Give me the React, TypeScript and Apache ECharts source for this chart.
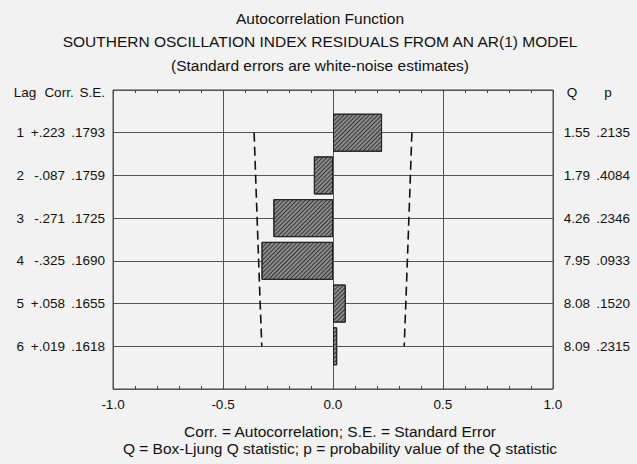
import React, { useEffect, useRef } from "react";
import * as echarts from "echarts";

const lags = [1, 2, 3, 4, 5, 6];
const corr = [0.223, -0.087, -0.271, -0.325, 0.058, 0.019];
const corrLabels = ["+.223", "-.087", "-.271", "-.325", "+.058", "+.019"];
const stdErr = [0.1793, 0.1759, 0.1725, 0.169, 0.1655, 0.1618];
const seLabels = [".1793", ".1759", ".1725", ".1690", ".1655", ".1618"];
const qStat = ["1.55", "1.79", "4.26", "7.95", "8.08", "8.09"];
const pValues = [".2135", ".4084", ".2346", ".0933", ".1520", ".2315"];

const titleLines = [
  "Autocorrelation Function",
  "SOUTHERN OSCILLATION INDEX RESIDUALS FROM AN AR(1) MODEL",
  "(Standard errors are white-noise estimates)",
];
const footLines = [
  "Corr. = Autocorrelation; S.E. = Standard Error",
  "Q = Box-Ljung Q statistic; p = probability value of the Q statistic",
];

const FONT = '"Liberation Sans", Arial, sans-serif';

export default function App() {
  const ref = useRef<HTMLDivElement>(null);
  useEffect(() => {
    document.body.style.margin = "0";
    const chart = echarts.init(ref.current!, null, { renderer: "svg" });
    const yCats = ["", ...lags.map(String), ""];
    const pad = (arr: any[]) => ["-", ...arr, "-"];
    const axisCommon = {
      type: "value",
      min: -1,
      max: 1,
      interval: 0.5,
      axisLine: { show: false },
      axisTick: { show: true, inside: true, length: 3, lineStyle: { color: "#444" } },
      minorTick: { show: true, splitNumber: 5, length: 3, lineStyle: { color: "#444" } },
    };
    chart.setOption({
      animation: false,
      backgroundColor: "#f2f2f2",
      textStyle: { fontFamily: FONT },
      grid: {
        left: 113,
        top: 90,
        width: 440,
        height: 299,
        show: true,
        borderColor: "#444",
        borderWidth: 1,
        backgroundColor: "transparent",
      },
      xAxis: [
        {
          ...axisCommon,
          position: "bottom",
          axisLabel: {
            show: true,
            margin: 8,
            fontSize: 13.5,
            color: "#111",
            fontFamily: FONT,
            formatter: (v: number) => v.toFixed(1),
          },
          splitLine: { show: true, lineStyle: { color: "#555", width: 1 } },
        },
        {
          ...axisCommon,
          position: "top",
          axisLabel: { show: false },
          splitLine: { show: false },
        },
      ],
      yAxis: [
        {
          type: "category",
          data: yCats,
          inverse: true,
          boundaryGap: false,
          position: "left",
          axisLine: { show: false },
          axisTick: { show: false },
          splitLine: { show: true, interval: 0, lineStyle: { color: "#555", width: 1 } },
          axisLabel: {
            interval: 0,
            margin: 8,
            fontSize: 13.5,
            color: "#111",
            fontFamily: FONT,
            formatter: (_v: string, i: number) => {
              if (i === 0) return "{hl|Lag}{hc|Corr.}{hs|S.E.}";
              if (i >= 1 && i <= lags.length)
                return `{n|${lags[i - 1]}}{c|${corrLabels[i - 1]}}{s|${seLabels[i - 1]}}`;
              return "";
            },
            rich: {
              hl: { width: 30, align: "center", fontSize: 13.5, fontFamily: FONT, color: "#111", padding: [5, 0, 0, 0] },
              hc: { width: 38, align: "center", fontSize: 13.5, fontFamily: FONT, color: "#111", padding: [5, 0, 0, 0] },
              hs: { width: 27, align: "right", fontSize: 13.5, fontFamily: FONT, color: "#111", padding: [5, 0, 0, 0] },
              n: { width: 14, align: "right", fontSize: 13.5, fontFamily: FONT, color: "#111" },
              c: { width: 41, align: "right", fontSize: 13.5, fontFamily: FONT, color: "#111" },
              s: { width: 40, align: "right", fontSize: 13.5, fontFamily: FONT, color: "#111" },
            },
          },
        },
        {
          type: "category",
          data: yCats,
          inverse: true,
          boundaryGap: false,
          position: "right",
          axisLine: { show: false },
          axisTick: { show: false },
          splitLine: { show: false },
          axisLabel: {
            interval: 0,
            margin: 11,
            fontSize: 13.5,
            color: "#111",
            fontFamily: FONT,
            formatter: (_v: string, i: number) => {
              if (i === 0) return "{hq|Q}{hp|p}";
              if (i >= 1 && i <= lags.length) return `{q|${qStat[i - 1]}}{p|${pValues[i - 1]}}`;
              return "";
            },
            rich: {
              hq: { width: 16, align: "center", fontSize: 13.5, fontFamily: FONT, color: "#111", padding: [5, 0, 0, 0] },
              hp: { width: 56, align: "center", fontSize: 13.5, fontFamily: FONT, color: "#111", padding: [5, 0, 0, 0] },
              q: { width: 26, align: "right", fontSize: 13.5, fontFamily: FONT, color: "#111" },
              p: { width: 40, align: "right", fontSize: 13.5, fontFamily: FONT, color: "#111" },
            },
          },
        },
      ],
      series: [
        {
          type: "bar",
          xAxisIndex: 0,
          yAxisIndex: 0,
          data: pad(corr),
          barWidth: 38,
          itemStyle: {
            color: "#8c8c8c",
            borderColor: "#222",
            borderWidth: 1,
            decal: {
              symbol: "rect",
              symbolSize: 1,
              color: "rgba(35,35,35,0.85)",
              dashArrayX: [1, 0],
              dashArrayY: [1, 1.6],
              rotation: -Math.PI / 4,
            },
          },
          z: 3,
        },
        {
          type: "line",
          xAxisIndex: 0,
          yAxisIndex: 0,
          data: pad(stdErr.map((s) => -2 * s)),
          symbol: "none",
          lineStyle: { color: "#111", width: 1.6, type: [9, 5] },
          z: 4,
        },
        {
          type: "line",
          xAxisIndex: 0,
          yAxisIndex: 0,
          data: pad(stdErr.map((s) => 2 * s)),
          symbol: "none",
          lineStyle: { color: "#111", width: 1.6, type: [9, 5] },
          z: 4,
        },
      ],
      graphic: [
        ...titleLines.map((t, i) => ({
          type: "text",
          x: 320,
          y: 18 + i * 23.5,
          style: {
            text: t,
            fontSize: 15.5,
            fontFamily: FONT,
            fill: "#111",
            textAlign: "center",
            textVerticalAlign: "middle",
          },
        })),
        ...footLines.map((t, i) => ({
          type: "text",
          x: 340,
          y: 431 + i * 17.5,
          style: {
            text: t,
            fontSize: 15.5,
            fontFamily: FONT,
            fill: "#111",
            textAlign: "center",
            textVerticalAlign: "middle",
          },
        })),
      ],
    });
    return () => chart.dispose();
  }, []);
  return (
    <div
      ref={ref}
      style={{ position: "fixed", left: 0, top: 0, width: 637, height: 464, background: "#f2f2f2" }}
    />
  );
}
